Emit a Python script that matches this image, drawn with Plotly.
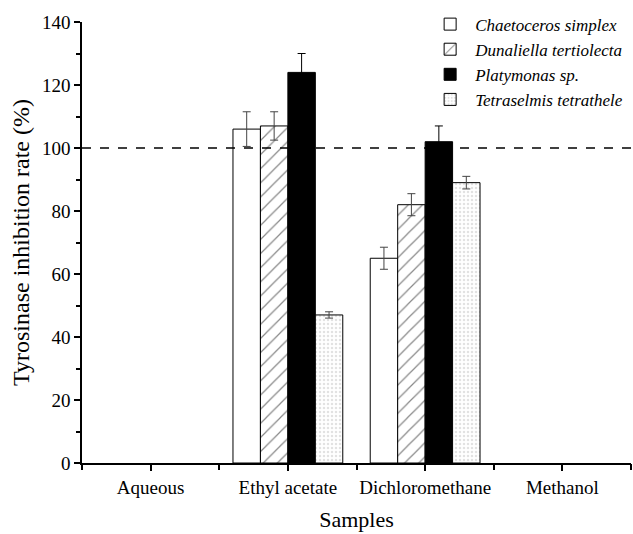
import plotly.graph_objects as go

categories = ["Aqueous", "Ethyl acetate", "Dichloromethane", "Methanol"]
species = ["Chaetoceros simplex", "Dunaliella tertiolecta", "Platymonas sp.", "Tetraselmis tetrathele"]
chaetoceros = [None, 106, 65, None]
chaetoceros_err = [0, 5.5, 3.5, 0]
dunaliella = [None, 107, 82, None]
dunaliella_err = [0, 4.5, 3.5, 0]
platymonas = [None, 124, 102, None]
platymonas_err = [0, 6, 5, 0]
tetraselmis = [None, 47, 89, None]
tetraselmis_err = [0, 1, 2, 0]
reference_level = 100

series = [chaetoceros, dunaliella, platymonas, tetraselmis]
errors = [chaetoceros_err, dunaliella_err, platymonas_err, tetraselmis_err]
styles = [
    dict(color="white", pattern=dict(shape="")),
    dict(color="white", pattern=dict(shape="/", fgcolor="#111", bgcolor="white", size=10, solidity=0.12)),
    dict(color="black", pattern=dict(shape="")),
    dict(color="white", pattern=dict(shape=".", fgcolor="#c4c4c4", bgcolor="white", size=4, solidity=0.3)),
]
err_colors = ["#444", "#444", "black", "#444"]

font = "Liberation Serif"
fig = go.Figure()
for name, vals, err, st, ec in zip(species, series, errors, styles, err_colors):
    fig.add_trace(go.Bar(
        x=categories, y=vals, name=name,
        marker=dict(color=st["color"], pattern=st["pattern"], line=dict(color="black", width=1)),
        error_y=dict(type="data", array=err, color=ec, thickness=1, width=4),
    ))

fig.add_hline(y=reference_level, line=dict(color="black", width=1.5, dash="dash"))

fig.update_layout(
    width=633, height=534,
    margin=dict(l=82, r=2, t=22, b=71, autoexpand=False),
    paper_bgcolor="white", plot_bgcolor="white",
    barmode="group", bargap=0.2, bargroupgap=0,
    font=dict(family=font, color="black", size=19),
    showlegend=True,
    legend=dict(x=0.625, y=1.035, xanchor="left", yanchor="top",
                font=dict(family=font, size=17, style="italic"),
                bgcolor="rgba(0,0,0,0)", tracegroupgap=0, itemwidth=40),
    xaxis=dict(type="category", categoryarray=categories, range=[-0.5, 3.5],
               showline=True, linecolor="black", linewidth=1.5,
               ticks="outside", ticklen=6, tickcolor="black", tickwidth=1.5,
               title=dict(text="Samples", font=dict(family=font, size=22), standoff=15),
               tickfont=dict(family=font, size=19), showgrid=False, zeroline=False,
               automargin=False),
    xaxis2=dict(type="category", categoryarray=categories, range=[-0.5, 3.5],
                overlaying="x", side="bottom", tickson="boundaries",
                ticks="outside", ticklen=6, tickcolor="black", tickwidth=1.5,
                showticklabels=False, showline=False, showgrid=False, zeroline=False,
                anchor="y", automargin=False),
    yaxis=dict(range=[0, 140], dtick=20, showline=True, linecolor="black", linewidth=1.5,
               ticks="outside", ticklen=6, tickcolor="black", tickwidth=1.5,
               minor=dict(dtick=10, ticks="outside", ticklen=4, tickcolor="black", tickwidth=1.5),
               title=dict(text="Tyrosinase inhibition rate (%)", font=dict(family=font, size=24), standoff=6),
               tickfont=dict(family=font, size=19), showgrid=False, zeroline=False,
               automargin=False),
)
fig.add_trace(go.Bar(x=categories, y=[None]*4, xaxis="x2", showlegend=False, hoverinfo="skip"))

fig.write_html("out.html", config={"displayModeBar": False},
               post_script="document.body.style.margin='0';")
